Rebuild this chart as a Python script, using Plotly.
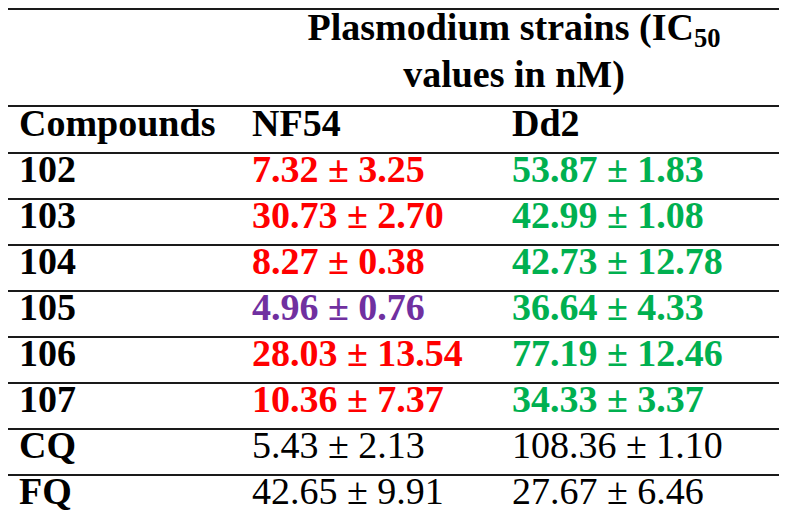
import plotly.graph_objects as go

# table content
compounds = ["102", "103", "104", "105", "106", "107", "CQ", "FQ"]
nf54 = ["7.32 ± 3.25", "30.73 ± 2.70", "8.27 ± 0.38", "4.96 ± 0.76",
        "28.03 ± 13.54", "10.36 ± 7.37", "5.43 ± 2.13", "42.65 ± 9.91"]
dd2 = ["53.87 ± 1.83", "42.99 ± 1.08", "42.73 ± 12.78", "36.64 ± 4.33",
       "77.19 ± 12.46", "34.33 ± 3.37", "108.36 ± 1.10", "27.67 ± 6.46"]
nf54_colors = ["#FF0000", "#FF0000", "#FF0000", "#7030A0",
               "#FF0000", "#FF0000", "#000000", "#000000"]
dd2_colors = ["#00B050"] * 6 + ["#000000"] * 2
bold_rows = [True] * 6 + [False] * 2
headers = ["Compounds", "NF54", "Dd2"]
title_lines = ["Plasmodium strains (IC<sub>50</sub>", "values in nM)"]

W, H = 787, 515
FONT = "Liberation Serif"
FS = 38

body_top = 145
row_h = 46
col_x = [11, 244, 504]
row_y = [body_top + row_h * (i + 0.5) - 4 for i in range(len(compounds))]


def fmt(s, b):
    return f"<b>{s}</b>" if b else s


fig = go.Figure()

columns = [
    ([f"<b>{c}</b>" for c in compounds], ["#000000"] * len(compounds)),
    ([fmt(v, b) for v, b in zip(nf54, bold_rows)], nf54_colors),
    ([fmt(v, b) for v, b in zip(dd2, bold_rows)], dd2_colors),
]
for x, (texts, colors) in zip(col_x, columns):
    fig.add_trace(go.Scatter(
        x=[x] * len(texts), y=row_y, mode="text", text=texts,
        textposition="middle right",
        textfont=dict(family=FONT, size=FS, color=colors),
        hoverinfo="skip", showlegend=False,
    ))

# header row
fig.add_trace(go.Scatter(
    x=col_x, y=[118] * 3, mode="text",
    text=[f"<b>{h}</b>" for h in headers],
    textposition="middle right",
    textfont=dict(family=FONT, size=FS, color="#000000"),
    hoverinfo="skip", showlegend=False,
))

# spanning title over the two strain columns
fig.add_trace(go.Scatter(
    x=[506, 506], y=[22, 69], mode="text",
    text=[f"<b>{t}</b>" for t in title_lines],
    textposition="middle center",
    textfont=dict(family=FONT, size=FS, color="#000000"),
    hoverinfo="skip", showlegend=False,
))

# horizontal rules
rules = [1, 98] + [body_top + row_h * i for i in range(len(compounds) + 1)]
for y in rules:
    fig.add_shape(type="line", x0=0, x1=W, y0=y, y1=y, xref="x", yref="y",
                  line=dict(color="#1a1a1a", width=2))

fig.update_layout(
    width=W, height=H,
    margin=dict(l=0, r=0, t=0, b=0),
    paper_bgcolor="white", plot_bgcolor="white",
    xaxis=dict(range=[0, W], visible=False, fixedrange=True),
    yaxis=dict(range=[H, 0], visible=False, fixedrange=True),
)

fig.write_html("out.html")
